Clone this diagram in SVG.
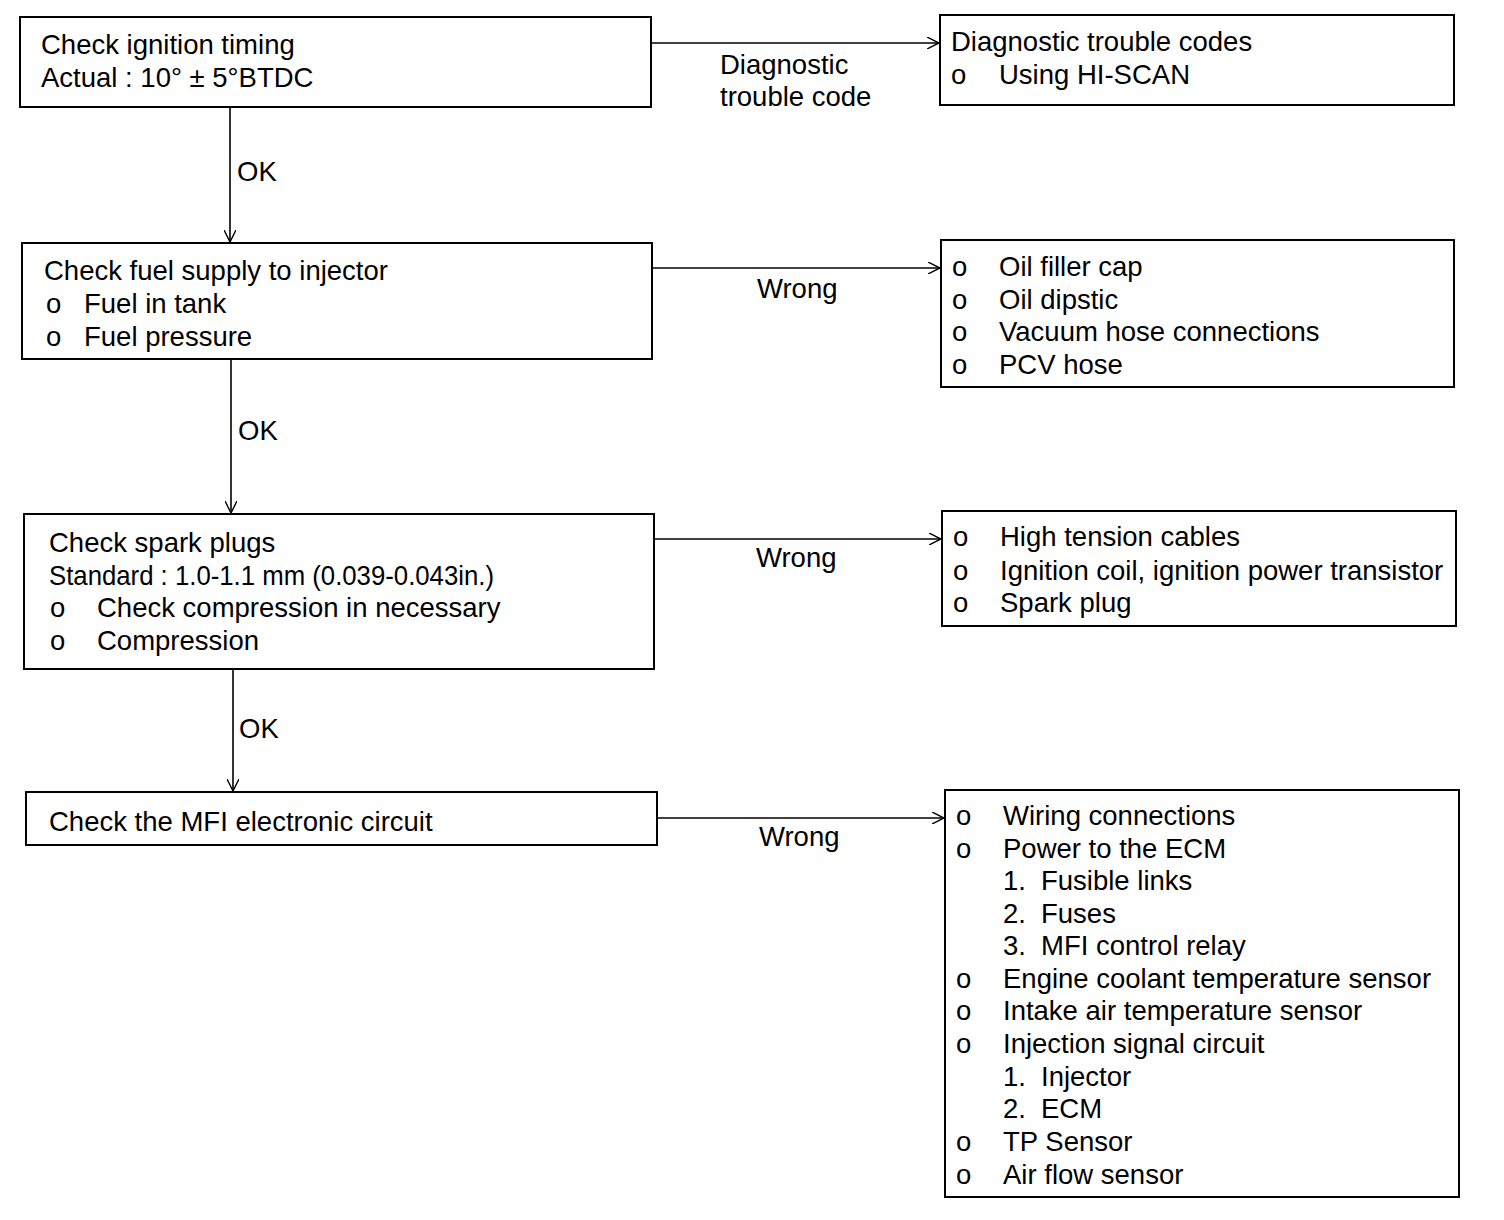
<svg xmlns="http://www.w3.org/2000/svg" width="1504" height="1220" viewBox="0 0 1504 1220">
<style>
text{font-family:"Liberation Sans",Arial,sans-serif;font-size:27.5px;fill:#000}
.box{fill:#fff;stroke:#000;stroke-width:2}
.conn{stroke:#000;stroke-width:1.6;fill:none}
</style>
<defs>
<marker id="arr" viewBox="0 0 12 12" refX="12" refY="6" markerWidth="12" markerHeight="12" markerUnits="userSpaceOnUse" orient="auto">
<path d="M0,0 L12,6 L0,12" fill="none" stroke="#000" stroke-width="1.4"/>
</marker>
</defs>
<rect width="1504" height="1220" fill="#fff"/>
<g id="connectors">
<line class="conn" x1="651" y1="43" x2="939" y2="43" marker-end="url(#arr)"/>
<line class="conn" x1="230" y1="107" x2="230" y2="242" marker-end="url(#arr)"/>
<line class="conn" x1="652" y1="268" x2="940" y2="268" marker-end="url(#arr)"/>
<line class="conn" x1="231" y1="359" x2="231" y2="513" marker-end="url(#arr)"/>
<line class="conn" x1="654" y1="539" x2="941" y2="539" marker-end="url(#arr)"/>
<line class="conn" x1="233" y1="669" x2="233" y2="791" marker-end="url(#arr)"/>
<line class="conn" x1="657" y1="818" x2="944" y2="818" marker-end="url(#arr)"/>
<text x="720" y="74">Diagnostic</text>
<text x="720" y="106">trouble code</text>
<text x="237" y="181">OK</text>
<text x="238" y="440">OK</text>
<text x="239" y="738">OK</text>
<text x="757" y="298">Wrong</text>
<text x="756" y="567">Wrong</text>
<text x="759" y="846">Wrong</text>
</g>
<g id="n1">
<rect class="box" x="20" y="17" width="631" height="90"/>
<text x="41" y="54">Check ignition timing</text>
<text x="41" y="87">Actual : 10°  ± 5°BTDC</text>
</g>
<g id="r1">
<rect class="box" x="940" y="15" width="514" height="90"/>
<text x="951" y="51">Diagnostic trouble codes</text>
<text x="951" y="84">o</text><text x="999" y="84">Using HI-SCAN</text>
</g>
<g id="n2">
<rect class="box" x="22" y="243" width="630" height="116"/>
<text x="44" y="280">Check fuel supply to injector</text>
<text x="46" y="313">o</text><text x="84" y="313">Fuel in tank</text>
<text x="46" y="346">o</text><text x="84" y="346">Fuel pressure</text>
</g>
<g id="r2">
<rect class="box" x="941" y="240" width="513" height="147"/>
<text x="952" y="276">o</text><text x="999" y="276">Oil filler cap</text>
<text x="952" y="309">o</text><text x="999" y="309">Oil dipstic</text>
<text x="952" y="341">o</text><text x="999" y="341">Vacuum hose connections</text>
<text x="952" y="374">o</text><text x="999" y="374">PCV hose</text>
</g>
<g id="n3">
<rect class="box" x="24" y="514" width="630" height="155"/>
<text x="49" y="552">Check spark plugs</text>
<text x="49" y="585" textLength="445" lengthAdjust="spacingAndGlyphs">Standard : 1.0-1.1 mm (0.039-0.043in.)</text>
<text x="50" y="617">o</text><text x="97" y="617">Check compression in necessary</text>
<text x="50" y="650">o</text><text x="97" y="650">Compression</text>
</g>
<g id="r3">
<rect class="box" x="942" y="511" width="514" height="115"/>
<text x="953" y="546">o</text><text x="1000" y="546">High tension cables</text>
<text x="953" y="580">o</text><text x="1000" y="580">Ignition coil, ignition power transistor</text>
<text x="953" y="612">o</text><text x="1000" y="612">Spark plug</text>
</g>
<g id="n4">
<rect class="box" x="26" y="792" width="631" height="53"/>
<text x="49" y="831">Check the MFI electronic circuit</text>
</g>
<g id="r4">
<rect class="box" x="945" y="790" width="514" height="407"/>
<text x="956" y="825">o</text><text x="1003" y="825">Wiring connections</text>
<text x="956" y="858">o</text><text x="1003" y="858">Power to the ECM</text>
<text x="1003" y="890">1.</text><text x="1041" y="890">Fusible links</text>
<text x="1003" y="923">2.</text><text x="1041" y="923">Fuses</text>
<text x="1003" y="955">3.</text><text x="1041" y="955">MFI control relay</text>
<text x="956" y="988">o</text><text x="1003" y="988">Engine coolant temperature sensor</text>
<text x="956" y="1020">o</text><text x="1003" y="1020">Intake air temperature sensor</text>
<text x="956" y="1053">o</text><text x="1003" y="1053">Injection signal circuit</text>
<text x="1003" y="1086">1.</text><text x="1041" y="1086">Injector</text>
<text x="1003" y="1118">2.</text><text x="1041" y="1118">ECM</text>
<text x="956" y="1151">o</text><text x="1003" y="1151">TP Sensor</text>
<text x="956" y="1184">o</text><text x="1003" y="1184">Air flow sensor</text>
</g>
</svg>
